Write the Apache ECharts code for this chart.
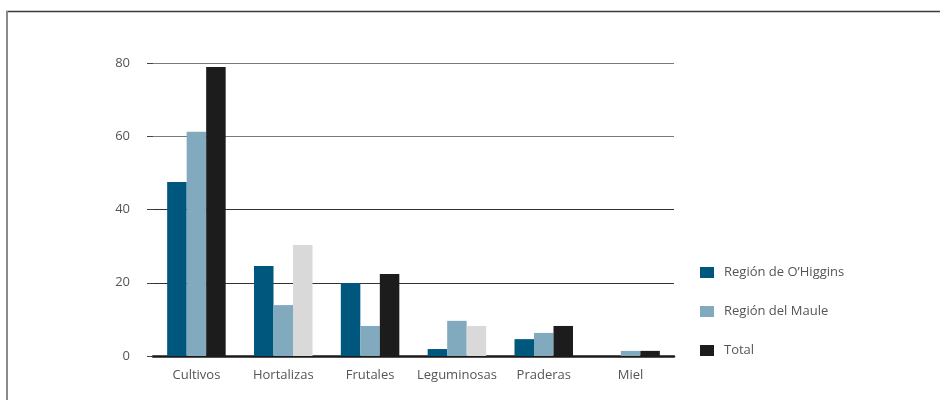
<!DOCTYPE html>
<html>
<head>
<meta charset="utf-8">
<script src="https://cdn.jsdelivr.net/npm/echarts@6/dist/echarts.min.js"></script>
<style>
html,body{margin:0;padding:0;background:#fff;}
#chart{width:940px;height:400px;}
</style>
</head>
<body>
<div id="chart"></div>
<script>
var categories = ['Cultivos', 'Hortalizas', 'Frutales', 'Leguminosas', 'Praderas', 'Miel'];
var seriesNames = ['Región de O’Higgins', 'Región del Maule', 'Total'];
var ohiggins = [47.5, 24.6, 19.9, 1.9, 4.6, 0];
var maule = [61.2, 13.9, 8.2, 9.6, 6.3, 1.4];
var total = [78.9, 30.3, 22.4, 8.2, 8.2, 1.4];
var totalHighlight = [false, true, false, true, false, false];
var yTicks = [0, 20, 40, 60, 80];

var colors = ['#00577e', '#82aabf', '#1c1c1c'];
var highlightColor = '#d9d9d9';

var chart = echarts.init(document.getElementById('chart'), null, {renderer: 'canvas'});
var fontFam = '"Open Sans", "Noto Sans", sans-serif';

var totalData = total.map(function (v, i) {
  return totalHighlight[i] ? {value: v, itemStyle: {color: highlightColor}} : v;
});

chart.setOption({
  animation: false,
  backgroundColor: '#fff',
  color: colors,
  graphic: [
    {type: 'line', shape: {x1: 6, y1: 11.5, x2: 940, y2: 11.5}, style: {stroke: '#3a3a3a', lineWidth: 1.5}},
    {type: 'line', shape: {x1: 7, y1: 11, x2: 7, y2: 400}, style: {stroke: '#8a8a8a', lineWidth: 2}}
  ],
  grid: {left: 153, right: 266, top: 63, bottom: 44, containLabel: false},
  legend: {
    orient: 'vertical',
    left: 695,
    top: 261,
    itemWidth: 14,
    itemHeight: 11,
    itemGap: 26,
    icon: 'rect',
    data: seriesNames,
    textStyle: {fontFamily: fontFam, fontSize: 13, color: '#555', padding: [0, 0, 0, 5]}
  },
  xAxis: {
    type: 'category',
    data: categories,
    axisLine: {show: true, lineStyle: {color: '#1a1a1a', width: 2.5}},
    axisTick: {show: false},
    axisLabel: {fontFamily: fontFam, fontSize: 13, color: '#555', margin: 13, interval: 0}
  },
  yAxis: {
    type: 'value',
    min: 0,
    max: 80,
    interval: 20,
    axisLine: {show: false},
    axisTick: {show: true, length: 6, lineStyle: {color: '#444'}},
    axisLabel: {fontFamily: fontFam, fontSize: 13, color: '#555', margin: 23,
      formatter: function (v) { return yTicks.indexOf(v) >= 0 ? String(v) : ''; }},
    splitLine: {show: true, lineStyle: {color: ['#1a1a1a', '#333', '#333', '#7a7a7a', '#7a7a7a'], width: 1.2}}
  },
  series: [
    {name: seriesNames[0], type: 'bar', data: ohiggins, barWidth: 19.5, barGap: '0%'},
    {name: seriesNames[1], type: 'bar', data: maule, barWidth: 19.5, barGap: '0%'},
    {name: seriesNames[2], type: 'bar', data: totalData, barWidth: 19.5, barGap: '0%'}
  ]
});
</script>
</body>
</html>
